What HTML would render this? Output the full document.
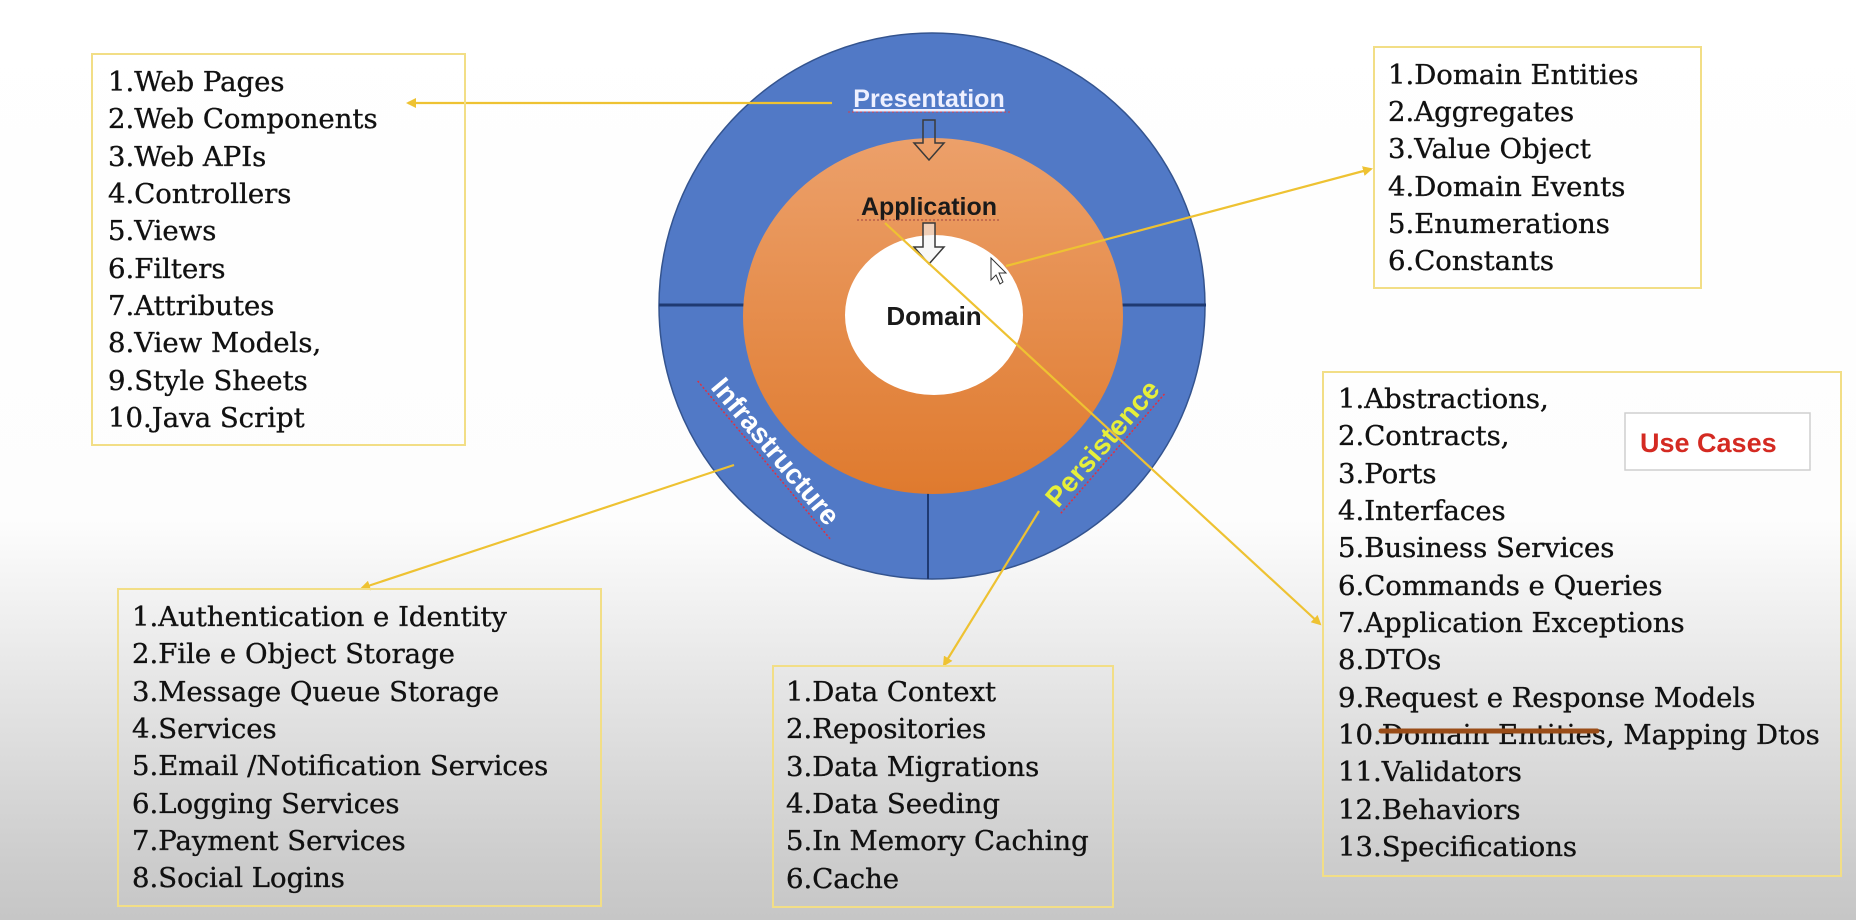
<!DOCTYPE html>
<html><head><meta charset="utf-8"><style>
html,body{margin:0;padding:0;}
body{width:1856px;height:920px;overflow:hidden;background:linear-gradient(to bottom,#ffffff 0px,#fdfdfd 520px,#e6e6e6 680px,#cdcdcd 860px,#c6c6c6 920px);}
svg{position:absolute;left:0;top:0;}
.t{font-family:"DejaVu Serif","Liberation Serif",serif;font-size:27.5px;fill:#111;stroke:#111;stroke-width:0.35;}
.l{font-family:"Liberation Sans",sans-serif;font-weight:bold;}
</style></head><body>
<svg width="1856" height="920" viewBox="0 0 1856 920" xmlns="http://www.w3.org/2000/svg">
<defs>
<linearGradient id="og" x1="0" y1="0" x2="0" y2="1">
<stop offset="0" stop-color="#eca06a"/><stop offset="1" stop-color="#df7a2e"/></linearGradient>
<marker id="ah" markerWidth="10" markerHeight="10" refX="8" refY="5" orient="auto" markerUnits="userSpaceOnUse">
<path d="M0,0 L10,5 L0,10 Z" fill="#eec232"/></marker>
</defs>
<circle cx="932" cy="306" r="273" fill="#5179c6" stroke="#34548f" stroke-width="1.5"/>
<line x1="659" y1="305" x2="746" y2="305" stroke="#1f3a72" stroke-width="3"/>
<line x1="1121" y1="305" x2="1206" y2="305" stroke="#1f3a72" stroke-width="3"/>
<line x1="928" y1="492" x2="928" y2="579" stroke="#1f3a72" stroke-width="2"/>
<ellipse cx="933" cy="316" rx="190" ry="178" fill="url(#og)"/>
<ellipse cx="934" cy="315" rx="89" ry="80" fill="#ffffff"/>
<path d="M923,120 L935,120 L935,143 L944,143 L929,160 L914,143 L923,143 Z" fill="none" stroke="#3a3a3a" stroke-width="1.5"/>
<path d="M923,223 L935,223 L935,247 L944,247 L929,264 L914,247 L923,247 Z" fill="#f4f4f4" fill-opacity="0.6" stroke="#3a3a3a" stroke-width="1.5"/>
<text x="929" y="107" text-anchor="middle" class="l" font-size="25" fill="#eef0ff" text-decoration="underline">Presentation</text>
<line x1="848" y1="112" x2="1011" y2="112" stroke="#d04050" stroke-width="1" stroke-dasharray="2,2"/>
<text x="929" y="215" text-anchor="middle" class="l" font-size="25" fill="#1a1a1a">Application</text>
<line x1="857" y1="220" x2="1001" y2="220" stroke="#a04040" stroke-width="1" stroke-dasharray="2,2"/>
<text x="934" y="325" text-anchor="middle" class="l" font-size="26" fill="#1a1a1a">Domain</text>
<g transform="translate(776,451) rotate(50)">
<text x="0" y="10" text-anchor="middle" class="l" font-size="28" fill="#ffffff">Infrastructure</text>
<line x1="-104" y1="15" x2="104" y2="15" stroke="#e03040" stroke-width="1.5" stroke-dasharray="2,2"/>
</g>
<g transform="translate(1102,443) rotate(-49)">
<text x="0" y="10" text-anchor="middle" class="l" font-size="28" fill="#e6ef3a">Persistence</text>
<line x1="-80" y1="15" x2="80" y2="15" stroke="#e03040" stroke-width="1.5" stroke-dasharray="2,2"/>
</g>
<path d="M991,258 L991,280 L996,275 L1000,284 L1003,282 L999,273 L1006,273 Z" fill="#fff" stroke="#333" stroke-width="1"/>
<g stroke="#eec232" stroke-width="2.2" fill="none">
<line x1="832" y1="103" x2="408" y2="103" marker-end="url(#ah)"/>
<line x1="1006" y1="266" x2="1371" y2="169" marker-end="url(#ah)"/>
<line x1="885" y1="223" x2="1320" y2="624" marker-end="url(#ah)"/>
<line x1="734" y1="465" x2="362" y2="588" marker-end="url(#ah)"/>
<line x1="1039" y1="511" x2="944" y2="665" marker-end="url(#ah)"/>
</g>
<g fill="none" stroke="#f2de86" stroke-width="2">
<rect x="92" y="54" width="373" height="391"/>
<rect x="1374" y="47" width="327" height="241"/>
<rect x="1323" y="372" width="518" height="504"/>
<rect x="118" y="589" width="483" height="317"/>
<rect x="773" y="666" width="340" height="241"/>
</g>
<rect x="1625" y="413" width="185" height="57" fill="#fff" stroke="#cfcfcf" stroke-width="1.5"/>
<text x="1640" y="452" class="l" font-size="27" fill="#d42a22">Use Cases</text>
<g class="t">
<text x="108" y="91">1.Web Pages</text>
<text x="108" y="128">2.Web Components</text>
<text x="108" y="166">3.Web APIs</text>
<text x="108" y="203">4.Controllers</text>
<text x="108" y="240">5.Views</text>
<text x="108" y="278">6.Filters</text>
<text x="108" y="315">7.Attributes</text>
<text x="108" y="352">8.View Models,</text>
<text x="108" y="390">9.Style Sheets</text>
<text x="108" y="427">10.Java Script</text>

<text x="1388" y="84">1.Domain Entities</text>
<text x="1388" y="121">2.Aggregates</text>
<text x="1388" y="158">3.Value Object</text>
<text x="1388" y="196">4.Domain Events</text>
<text x="1388" y="233">5.Enumerations</text>
<text x="1388" y="270">6.Constants</text>

<text x="1338" y="408">1.Abstractions,</text>
<text x="1338" y="445">2.Contracts,</text>
<text x="1338" y="483">3.Ports</text>
<text x="1338" y="520">4.Interfaces</text>
<text x="1338" y="557">5.Business Services</text>
<text x="1338" y="595">6.Commands e Queries</text>
<text x="1338" y="632">7.Application Exceptions</text>
<text x="1338" y="669">8.DTOs</text>
<text x="1338" y="707">9.Request e Response Models</text>
<text x="1338" y="744">10.Domain Entities, Mapping Dtos</text>
<text x="1338" y="781">11.Validators</text>
<text x="1338" y="819">12.Behaviors</text>
<text x="1338" y="856">13.Specifications</text>

<text x="132" y="626">1.Authentication e Identity</text>
<text x="132" y="663">2.File e Object Storage</text>
<text x="132" y="701">3.Message Queue Storage</text>
<text x="132" y="738">4.Services</text>
<text x="132" y="775">5.Email /Notification Services</text>
<text x="132" y="813">6.Logging Services</text>
<text x="132" y="850">7.Payment Services</text>
<text x="132" y="887">8.Social Logins</text>

<text x="786" y="701">1.Data Context</text>
<text x="786" y="738">2.Repositories</text>
<text x="786" y="776">3.Data Migrations</text>
<text x="786" y="813">4.Data Seeding</text>
<text x="786" y="850">5.In Memory Caching</text>
<text x="786" y="888">6.Cache</text>
</g>
<line x1="1381" y1="731" x2="1597" y2="731" stroke="#9a4d18" stroke-width="5" stroke-linecap="round"/>
</svg>
</body></html>
